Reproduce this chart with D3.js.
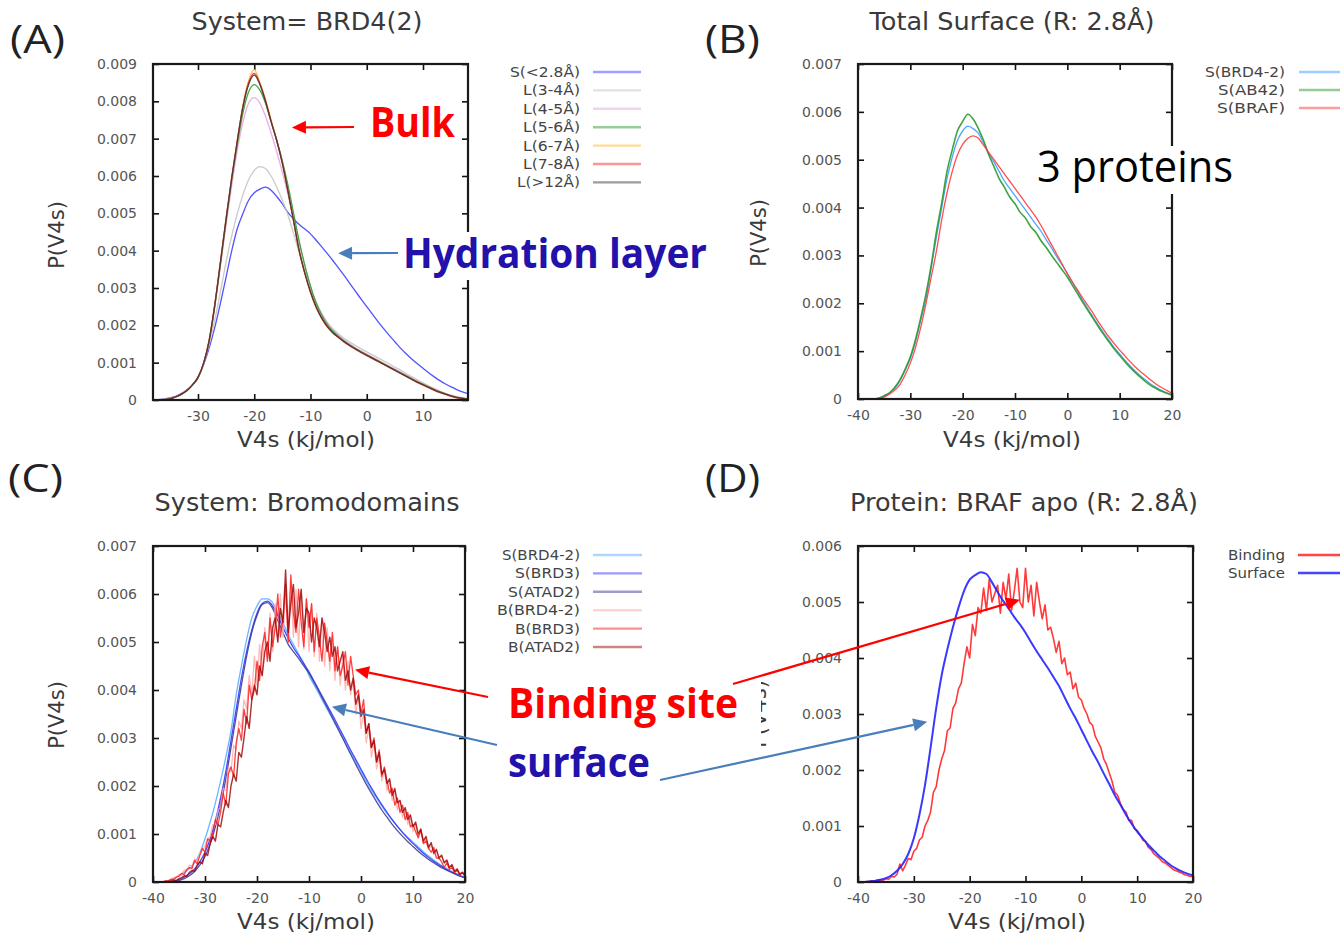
<!DOCTYPE html>
<html>
<head>
<meta charset="utf-8">
<script src="https://cdn.jsdelivr.net/npm/d3@7"></script>
<style>
  body { margin: 0; background: #fff; }
  svg { display: block; }
</style>
</head>
<body>
<svg id="fig" width="1340" height="937"></svg>
<script>
// ---- data (P values in units of 1e-3) ----
// panel A : x = -38 .. 18, step 1
const xA = d3.range(-38, 19);
const aS28 = [0, 0.01, 0.03, 0.06, 0.1, 0.17, 0.27, 0.4, 0.6, 0.95,
  1.4, 1.95, 2.6, 3.3, 4.0, 4.6, 5.0, 5.35, 5.55, 5.65,
  5.7, 5.62, 5.45, 5.25, 5.02, 4.85, 4.7, 4.58, 4.45, 4.28,
  4.1, 3.92, 3.73, 3.53, 3.33, 3.12, 2.91, 2.7, 2.5, 2.3,
  2.1, 1.91, 1.73, 1.56, 1.39, 1.24, 1.1, 0.97, 0.85, 0.73,
  0.62, 0.52, 0.43, 0.35, 0.28, 0.22, 0.17];
const aL34 = [0, 0.01, 0.02, 0.04, 0.08, 0.15, 0.25, 0.4, 0.6, 0.98,
  1.5, 2.15, 2.9, 3.7, 4.4, 5.0, 5.5, 5.9, 6.15, 6.25,
  6.2, 6.0, 5.7, 5.35, 4.95, 4.45, 3.95, 3.45, 3.0, 2.62,
  2.32, 2.08, 1.9, 1.77, 1.65, 1.55, 1.46, 1.37, 1.29, 1.21,
  1.13, 1.05, 0.97, 0.88, 0.8, 0.71, 0.62, 0.54, 0.46, 0.38,
  0.31, 0.24, 0.18, 0.13, 0.09, 0.06, 0.04];
const aL45 = [0, 0, 0.01, 0.03, 0.08, 0.15, 0.25, 0.4, 0.6, 0.98,
  1.58, 2.5, 3.6, 4.7, 5.75, 6.7, 7.45, 7.95, 8.1, 7.95,
  7.6, 7.15, 6.65, 6.1, 5.5, 4.85, 4.2, 3.6, 3.05, 2.62,
  2.3, 2.05, 1.87, 1.73, 1.6, 1.5, 1.4, 1.31, 1.23, 1.15,
  1.07, 0.99, 0.91, 0.83, 0.75, 0.67, 0.59, 0.51, 0.43, 0.36,
  0.29, 0.23, 0.17, 0.12, 0.08, 0.05, 0.02];
const aL56 = [0, 0, 0.01, 0.03, 0.08, 0.15, 0.25, 0.4, 0.6, 0.98,
  1.6, 2.55, 3.65, 4.8, 5.9, 6.85, 7.7, 8.25, 8.45, 8.3,
  7.95, 7.45, 6.95, 6.4, 5.75, 5.0, 4.25, 3.6, 3.05, 2.6,
  2.27, 2.02, 1.84, 1.7, 1.58, 1.47, 1.38, 1.29, 1.21, 1.13,
  1.05, 0.97, 0.89, 0.81, 0.73, 0.65, 0.57, 0.49, 0.42, 0.35,
  0.28, 0.22, 0.16, 0.11, 0.07, 0.04, 0.02];
const aL67 = [0, 0, 0.01, 0.03, 0.08, 0.15, 0.25, 0.4, 0.6, 0.98,
  1.6, 2.55, 3.7, 4.85, 5.95, 6.95, 7.9, 8.55, 8.85, 8.5,
  8.05, 7.5, 6.95, 6.35, 5.6, 4.8, 4.0, 3.4, 2.9, 2.5,
  2.2, 1.97, 1.8, 1.68, 1.56, 1.46, 1.37, 1.28, 1.2, 1.12,
  1.04, 0.96, 0.88, 0.8, 0.72, 0.64, 0.56, 0.48, 0.41, 0.34,
  0.27, 0.21, 0.16, 0.11, 0.07, 0.04, 0.02];
const aL78 = [0, 0, 0.01, 0.03, 0.08, 0.15, 0.26, 0.41, 0.62, 1.0,
  1.62, 2.58, 3.72, 4.87, 5.97, 6.97, 7.88, 8.5, 8.75, 8.48,
  8.02, 7.47, 6.95, 6.33, 5.58, 4.78, 3.98, 3.38, 2.88, 2.48,
  2.18, 1.95, 1.79, 1.67, 1.55, 1.45, 1.36, 1.27, 1.19, 1.11,
  1.03, 0.95, 0.87, 0.79, 0.71, 0.63, 0.55, 0.47, 0.4, 0.33,
  0.26, 0.2, 0.15, 0.1, 0.06, 0.04, 0.02];
const aL12 = [0, 0, 0.01, 0.03, 0.08, 0.15, 0.25, 0.4, 0.6, 0.98,
  1.6, 2.55, 3.7, 4.85, 5.95, 6.95, 7.85, 8.45, 8.7, 8.45,
  8.0, 7.45, 6.95, 6.35, 5.6, 4.8, 4.0, 3.4, 2.9, 2.5,
  2.2, 1.97, 1.8, 1.68, 1.56, 1.46, 1.37, 1.28, 1.2, 1.12,
  1.04, 0.96, 0.88, 0.8, 0.72, 0.64, 0.56, 0.48, 0.41, 0.34,
  0.27, 0.21, 0.16, 0.11, 0.07, 0.04, 0.02];

// panels B, C, D : x = -40 .. 20, step 1
const x1 = d3.range(-40, 21);
const bBRD42 = [0, 0, 0, 0, 0.02, 0.06, 0.12, 0.22, 0.38, 0.6,
  0.85, 1.2, 1.65, 2.1, 2.75, 3.4, 4.0, 4.6, 5.05, 5.4,
  5.6, 5.7, 5.65, 5.55, 5.35, 5.12, 4.95, 4.75, 4.55, 4.4,
  4.25, 4.1, 3.95, 3.8, 3.65, 3.5, 3.32, 3.15, 2.97, 2.8,
  2.62, 2.43, 2.24, 2.05, 1.87, 1.7, 1.53, 1.37, 1.22, 1.07,
  0.94, 0.81, 0.69, 0.58, 0.48, 0.39, 0.31, 0.24, 0.18, 0.13,
  0.09];
const bAB42 = [0, 0, 0, 0, 0.02, 0.07, 0.13, 0.24, 0.4, 0.62,
  0.88, 1.25, 1.7, 2.2, 2.8, 3.5, 4.1, 4.75, 5.2, 5.6,
  5.8, 5.95, 5.85, 5.65, 5.4, 5.1, 4.85, 4.6, 4.42, 4.22,
  4.08, 3.9, 3.78, 3.6, 3.48, 3.3, 3.16, 3.0, 2.85, 2.7,
  2.55, 2.37, 2.19, 2.01, 1.84, 1.67, 1.5, 1.34, 1.19, 1.04,
  0.91, 0.78, 0.66, 0.55, 0.45, 0.36, 0.28, 0.22, 0.16, 0.12,
  0.08];
const bBRAF = [0, 0, 0, 0, 0.01, 0.04, 0.1, 0.18, 0.3, 0.5,
  0.75, 1.08, 1.5, 2.0, 2.55, 3.1, 3.75, 4.3, 4.75, 5.1,
  5.32, 5.45, 5.5, 5.45, 5.3, 5.15, 5.0, 4.85, 4.7, 4.55,
  4.4, 4.25, 4.1, 3.95, 3.8, 3.62, 3.42, 3.22, 3.02, 2.82,
  2.62, 2.44, 2.27, 2.1, 1.94, 1.78, 1.6, 1.44, 1.29, 1.15,
  1.02, 0.9, 0.78, 0.67, 0.57, 0.48, 0.39, 0.31, 0.24, 0.18,
  0.12];

const cS_BRD42 = [0, 0, 0, 0.03, 0.08, 0.13, 0.2, 0.28, 0.4, 0.6,
  0.9, 1.25, 1.65, 2.1, 2.6, 3.15, 3.9, 4.5, 5.05, 5.5,
  5.75, 5.9, 5.9, 5.82, 5.6, 5.4, 5.15, 4.95, 4.75, 4.55,
  4.3, 4.1, 3.9, 3.7, 3.5, 3.3, 3.1, 2.9, 2.7, 2.5,
  2.3, 2.1, 1.92, 1.75, 1.58, 1.43, 1.29, 1.16, 1.04, 0.93,
  0.83, 0.73, 0.63, 0.54, 0.46, 0.38, 0.31, 0.25, 0.19, 0.14,
  0.1];
const cS_BRD3 = [0, 0, 0, 0.01, 0.02, 0.05, 0.1, 0.17, 0.27, 0.42,
  0.62, 0.9, 1.28, 1.75, 2.3, 2.95, 3.6, 4.25, 4.8, 5.25,
  5.6, 5.8, 5.85, 5.75, 5.55, 5.3, 5.08, 4.88, 4.72, 4.55,
  4.38, 4.18, 3.98, 3.78, 3.58, 3.38, 3.17, 2.96, 2.75, 2.55,
  2.35, 2.15, 1.96, 1.78, 1.61, 1.45, 1.3, 1.16, 1.03, 0.91,
  0.8, 0.7, 0.6, 0.51, 0.43, 0.36, 0.29, 0.23, 0.18, 0.13,
  0.09];
const cS_ATAD2 = [0, 0, 0, 0, 0.01, 0.03, 0.07, 0.13, 0.22, 0.35,
  0.53, 0.8, 1.15, 1.6, 2.15, 2.8, 3.45, 4.1, 4.7, 5.2,
  5.55, 5.78, 5.82, 5.7, 5.45, 5.2, 4.95, 4.8, 4.66, 4.5,
  4.35, 4.15, 3.95, 3.74, 3.53, 3.32, 3.1, 2.88, 2.66, 2.45,
  2.24, 2.04, 1.85, 1.67, 1.5, 1.35, 1.2, 1.07, 0.95, 0.84,
  0.74, 0.64, 0.55, 0.47, 0.4, 0.33, 0.27, 0.22, 0.17, 0.12,
  0.09];

const dSurface = [0, 0, 0.01, 0.02, 0.04, 0.07, 0.12, 0.2, 0.32, 0.5,
  0.78, 1.2, 1.73, 2.4, 3.1, 3.7, 4.15, 4.55, 4.9, 5.2,
  5.4, 5.48, 5.53, 5.5, 5.35, 5.18, 5.02, 4.88, 4.73, 4.6,
  4.45, 4.28, 4.12, 3.97, 3.82, 3.66, 3.5, 3.3, 3.1, 2.92,
  2.72, 2.52, 2.32, 2.14, 1.94, 1.75, 1.55, 1.38, 1.2, 1.04,
  0.9, 0.78, 0.66, 0.56, 0.46, 0.38, 0.3, 0.24, 0.19, 0.15,
  0.12];

// noisy binding-site histograms : x = -40 .. 20, step 0.5
const xHalf = d3.range(-40, 20.25, 0.5);
const cB_BRD42 = [0, 0, 0, 0, 0, 0.02, 0.04, 0.03, 0.09, 0.1,
  0.16, 0.14, 0.25, 0.24, 0.35, 0.33, 0.48, 0.44, 0.6, 0.66,
  0.75, 0.9, 0.95, 1.2, 1.2, 1.5, 1.55, 1.95, 1.9, 2.4,
  2.3, 2.85, 2.75, 3.35, 3.2, 3.8, 3.6, 4.3, 3.9, 4.7,
  4.1, 4.95, 4.3, 5.3, 4.6, 5.6, 4.8, 5.8, 5.0, 6.0,
  5.1, 6.1, 5.0, 6.2, 5.1, 6.1, 4.9, 6.0, 4.85, 5.9,
  4.8, 5.8, 4.7, 5.6, 4.6, 5.5, 4.5, 5.3, 4.4, 5.1,
  4.2, 4.9, 4.1, 4.7, 4.0, 4.6, 3.9, 4.2, 3.5, 3.9,
  3.2, 3.5, 2.9, 3.2, 2.6, 2.9, 2.35, 2.6, 2.1, 2.35,
  1.9, 2.1, 1.7, 1.9, 1.5, 1.7, 1.35, 1.5, 1.2, 1.35,
  1.05, 1.2, 0.92, 1.05, 0.8, 0.9, 0.68, 0.78, 0.57, 0.66,
  0.47, 0.55, 0.39, 0.45, 0.31, 0.36, 0.24, 0.28, 0.18, 0.21,
  0.13];
const cB_BRD3 = [0, 0, 0, 0, 0.01, 0.03, 0.02, 0.06, 0.05, 0.1,
  0.12, 0.18, 0.15, 0.26, 0.3, 0.28, 0.45, 0.38, 0.55, 0.7,
  0.62, 0.9, 0.85, 1.0, 1.3, 1.2, 1.45, 1.85, 1.6, 2.25,
  2.4, 2.2, 2.9, 3.2, 2.95, 3.6, 3.3, 4.1, 3.8, 4.0,
  4.6, 4.2, 4.9, 5.2, 4.6, 5.5, 4.9, 5.3, 6.0, 5.1,
  5.5, 6.2, 5.0, 6.4, 5.6, 5.2, 6.1, 5.4, 4.9, 5.9,
  5.3, 5.8, 4.8, 5.5, 5.1, 4.6, 5.4, 5.0, 4.6, 5.2,
  4.4, 4.9, 4.3, 4.5, 4.8, 4.1, 4.7, 4.3, 3.9, 4.0,
  3.5, 3.8, 3.1, 3.3, 2.8, 3.0, 2.5, 2.75, 2.2, 2.4,
  2.1, 1.85, 1.95, 1.6, 1.75, 1.45, 1.6, 1.3, 1.45, 1.15,
  1.2, 1.05, 0.92, 1.1, 0.8, 0.85, 0.7, 0.62, 0.72, 0.5,
  0.5, 0.42, 0.3, 0.4, 0.26, 0.3, 0.2, 0.24, 0.14, 0.2,
  0.12];
const cB_ATAD2 = [0, 0, 0, 0, 0, 0, 0.01, 0.02, 0.04, 0.03,
  0.07, 0.09, 0.13, 0.12, 0.2, 0.24, 0.22, 0.35, 0.42, 0.38,
  0.6, 0.55, 0.8, 0.95, 0.85, 1.2, 1.15, 1.45, 1.7, 1.55,
  2.0, 2.25, 2.1, 2.7, 2.6, 3.0, 3.45, 3.2, 3.8, 4.1,
  3.9, 4.5, 4.3, 4.8, 5.0, 4.6, 5.3, 5.5, 5.0, 5.7,
  5.4, 6.5, 5.2, 5.8, 6.2, 5.3, 5.6, 6.1, 5.2, 5.7,
  5.6, 5.0, 5.5, 5.3, 4.9, 5.5, 5.2, 4.8, 5.1, 4.7,
  4.9, 4.4, 4.6, 4.8, 4.2, 4.4, 4.0, 4.25, 3.7, 3.9,
  3.45, 3.6, 3.1, 3.3, 2.8, 2.95, 2.5, 2.7, 2.25, 2.35,
  2.05, 2.15, 1.8, 1.95, 1.65, 1.7, 1.45, 1.55, 1.3, 1.4,
  1.15, 1.25, 1.0, 1.1, 0.85, 0.95, 0.72, 0.82, 0.6, 0.68,
  0.5, 0.56, 0.4, 0.46, 0.3, 0.36, 0.22, 0.27, 0.16, 0.2,
  0.13];
const dBinding = [0, 0, 0, 0.01, 0.01, 0.02, 0.02, 0.03, 0.04, 0.03,
  0.06, 0.05, 0.1, 0.09, 0.14, 0.32, 0.2, 0.3, 0.42, 0.4,
  0.55, 0.6, 0.75, 0.8, 1.0, 1.1, 1.25, 1.6, 1.7, 2.0,
  2.2, 2.35, 2.7, 2.75, 3.1, 3.2, 3.45, 3.55, 3.9, 4.2,
  4.0, 4.6, 4.4, 4.9, 4.8, 5.25, 4.85, 5.4, 5.0, 5.15,
  5.3, 4.8, 5.35, 5.05, 5.5, 4.85, 5.2, 5.6, 5.0, 4.9,
  5.6, 5.0, 5.3, 4.75, 5.35, 5.0, 4.7, 4.95, 4.5, 4.55,
  4.35, 4.1, 4.3, 3.9, 4.0, 3.7, 3.75, 3.45, 3.55, 3.3,
  3.25, 3.1, 3.0, 2.85, 2.8, 2.6, 2.5, 2.4, 2.2, 2.1,
  1.95, 1.8, 1.6, 1.55, 1.4, 1.3, 1.25, 1.1, 1.1, 0.95,
  0.92, 0.85, 0.75, 0.72, 0.62, 0.58, 0.5, 0.46, 0.42, 0.36,
  0.34, 0.3, 0.26, 0.22, 0.2, 0.18, 0.16, 0.13, 0.12, 0.1,
  0.1];

// tick values
const xTicksA = [-30, -20, -10, 0, 10];
const xTicks = [-40, -30, -20, -10, 0, 10, 20];
const yTicks9 = [0, 0.001, 0.002, 0.003, 0.004, 0.005, 0.006, 0.007, 0.008, 0.009];
const yTicks7 = [0, 0.001, 0.002, 0.003, 0.004, 0.005, 0.006, 0.007];
const yTicks6 = [0, 0.001, 0.002, 0.003, 0.004, 0.005, 0.006];

// ---- drawing ----
const svg = d3.select("#fig");
const GP = "'DejaVu Sans', Verdana, sans-serif";
const SL = "'Open Sans', 'Noto Sans', sans-serif";
const fmtY = d => d === 0 ? "0" : d3.format(".3f")(d);
const fmtX = d => String(d);   // plain hyphen for negatives, like gnuplot

function drawPanel(p) {
  const x = d3.scaleLinear().domain(p.xDomain).range([p.left, p.right]);
  const y = d3.scaleLinear().domain([0, p.yMax]).range([p.bottom, p.top]);
  const g = svg.append("g");

  const clipId = "clip-" + p.id;
  svg.append("clipPath").attr("id", clipId).append("rect")
    .attr("x", p.left).attr("y", p.top)
    .attr("width", p.right - p.left).attr("height", p.bottom - p.top);

  const axes = [
    [d3.axisBottom(x).tickValues(p.xTicks).tickFormat(fmtX).tickPadding(11), `translate(0,${p.bottom})`],
    [d3.axisTop(x).tickValues(p.xTicks).tickFormat(""), `translate(0,${p.top})`],
    [d3.axisLeft(y).tickValues(p.yTicks).tickFormat(fmtY).tickPadding(16), `translate(${p.left},0)`],
    [d3.axisRight(y).tickValues(p.yTicks).tickFormat(""), `translate(${p.right},0)`]
  ];
  axes.forEach(([ax, tr]) => {
    const a = g.append("g").attr("transform", tr)
      .call(ax.tickSizeInner(-6).tickSizeOuter(0));
    a.select(".domain").remove();
    a.selectAll(".tick line").attr("stroke", "#111").attr("stroke-width", 1.6);
    a.selectAll(".tick text").attr("fill", "#555").style("font-family", GP).style("font-size", "14px");
  });

  // curves
  const line = d3.line().x(d => x(d[0])).y(d => y(d[1]));
  p.series.forEach(s => {
    const pts = s.xs.map((xv, i) => [xv, s.values[i] / 1000]).filter(d => !isNaN(d[1]));
    g.append("path")
      .attr("clip-path", `url(#${clipId})`)
      .attr("d", line.curve(s.noisy ? d3.curveLinear : d3.curveMonotoneX)(pts))
      .attr("fill", "none")
      .attr("stroke", s.color)
      .attr("stroke-width", s.width || 1.3)
      .attr("stroke-opacity", s.opacity || 0.9)
      .attr("stroke-linejoin", "round");
  });

  // frame
  g.append("rect")
    .attr("x", p.left).attr("y", p.top)
    .attr("width", p.right - p.left).attr("height", p.bottom - p.top)
    .attr("fill", "none").attr("stroke", "#1a1a1a").attr("stroke-width", 2.2);

  // legend
  p.series.forEach((s, i) => {
    const ly = p.leg.y + i * p.leg.step;
    g.append("text")
      .attr("x", p.leg.textX).attr("y", ly).attr("dy", "0.35em")
      .attr("text-anchor", "end")
      .attr("textLength", s.lw).attr("lengthAdjust", "spacingAndGlyphs")
      .attr("fill", "#444").style("font-family", GP).style("font-size", "14px")
      .text(s.name);
    g.append("line")
      .attr("x1", p.leg.x1).attr("x2", p.leg.x2).attr("y1", ly).attr("y2", ly)
      .attr("stroke", s.color).attr("stroke-width", 2.4)
      .attr("stroke-opacity", p.leg.opacity);
  });

  // title, axis labels, panel letter
  g.append("text").attr("x", p.title.x).attr("y", p.title.y).attr("text-anchor", "middle")
    .attr("textLength", p.title.w).attr("lengthAdjust", "spacingAndGlyphs")
    .attr("fill", "#3a3a3a").style("font-family", GP).style("font-size", "25px").text(p.title.text);
  g.append("text").attr("x", p.xlab.x).attr("y", p.xlab.y).attr("text-anchor", "middle")
    .attr("textLength", 138).attr("lengthAdjust", "spacingAndGlyphs")
    .attr("fill", "#3a3a3a").style("font-family", GP).style("font-size", "21px").text("V4s (kj/mol)");
  g.append("text").attr("transform", `translate(${p.ylab.x},${p.ylab.y}) rotate(-90)`)
    .attr("text-anchor", "middle")
    .attr("fill", "#3a3a3a").style("font-family", GP).style("font-size", "21px").text("P(V4s)");
  g.append("text").attr("x", p.letter.x).attr("y", p.letter.y)
    .attr("textLength", 55).attr("lengthAdjust", "spacingAndGlyphs")
    .attr("fill", "#222").style("font-family", SL).style("font-size", "38px").text(p.letter.text);

  return { x, y };
}

const A = drawPanel({
  id: "A", left: 153, right: 468, top: 64, bottom: 400,
  xDomain: [-38, 18], yMax: 0.009, xTicks: xTicksA, yTicks: yTicks9,
  series: [
    { name: "S(<2.8Å)", xs: xA, values: aS28, color: "#3f3fff", lw: 70 },
    { name: "L(3-4Å)", xs: xA, values: aL34, color: "#c4c4c4", lw: 57 },
    { name: "L(4-5Å)", xs: xA, values: aL45, color: "#e4a6e4", lw: 57 },
    { name: "L(5-6Å)", xs: xA, values: aL56, color: "#2f9e2f", lw: 57 },
    { name: "L(6-7Å)", xs: xA, values: aL67, color: "#ffb52e", lw: 57 },
    { name: "L(7-8Å)", xs: xA, values: aL78, color: "#ff2a2a", lw: 57 },
    { name: "L(>12Å)", xs: xA, values: aL12, color: "#3a3a3a", lw: 63 }
  ],
  leg: { y: 72, step: 18.4, textX: 580, x1: 593, x2: 641, opacity: 0.5 },
  title: { text: "System= BRD4(2)", x: 307, y: 30, w: 231 },
  xlab: { x: 306, y: 447 }, ylab: { x: 64, y: 235 },
  letter: { text: "(A)", x: 10, y: 53 }
});

const B = drawPanel({
  id: "B", left: 858, right: 1172, top: 64, bottom: 399,
  xDomain: [-40, 20], yMax: 0.007, xTicks: xTicks, yTicks: yTicks7,
  series: [
    { name: "S(BRD4-2)", xs: x1, values: bBRD42, color: "#3d9bff", lw: 80 },
    { name: "S(AB42)", xs: x1, values: bAB42, color: "#2a9a2a", lw: 67, width: 1.6 },
    { name: "S(BRAF)", xs: x1, values: bBRAF, color: "#ff3b3b", lw: 68 }
  ],
  leg: { y: 72, step: 18, textX: 1285, x1: 1299, x2: 1345, opacity: 0.5 },
  title: { text: "Total Surface (R: 2.8Å)", x: 1012, y: 30, w: 285 },
  xlab: { x: 1012, y: 447 }, ylab: { x: 766, y: 233 },
  letter: { text: "(B)", x: 705, y: 53 }
});

const C = drawPanel({
  id: "C", left: 153, right: 465, top: 546, bottom: 882,
  xDomain: [-40, 20], yMax: 0.007, xTicks: xTicks, yTicks: yTicks7,
  series: [
    { name: "S(BRD4-2)", xs: x1, values: cS_BRD42, color: "#5aaeff", lw: 78 },
    { name: "S(BRD3)", xs: x1, values: cS_BRD3, color: "#3535ff", lw: 65 },
    { name: "S(ATAD2)", xs: x1, values: cS_ATAD2, color: "#3c3c9a", lw: 72 },
    { name: "B(BRD4-2)", xs: xHalf, values: cB_BRD42, color: "#ffa8a8", lw: 83, noisy: true, opacity: 0.8 },
    { name: "B(BRD3)", xs: xHalf, values: cB_BRD3, color: "#ff2020", lw: 65, noisy: true, opacity: 0.85 },
    { name: "B(ATAD2)", xs: xHalf, values: cB_ATAD2, color: "#a00a0a", lw: 72, noisy: true, opacity: 0.85, width: 1.4 }
  ],
  leg: { y: 555, step: 18.4, textX: 580, x1: 593, x2: 642, opacity: 0.5 },
  title: { text: "System: Bromodomains", x: 307, y: 511, w: 305 },
  xlab: { x: 306, y: 929 }, ylab: { x: 64, y: 715 },
  letter: { text: "(C)", x: 8, y: 492 }
});

const D = drawPanel({
  id: "D", left: 858, right: 1193, top: 546, bottom: 882,
  xDomain: [-40, 20], yMax: 0.006, xTicks: xTicks, yTicks: yTicks6,
  series: [
    { name: "Binding", xs: xHalf, values: dBinding, color: "#ff2525", lw: 57, noisy: true, width: 1.6 },
    { name: "Surface", xs: x1, values: dSurface, color: "#2323ff", lw: 57, width: 2 }
  ],
  leg: { y: 555, step: 18, textX: 1285, x1: 1298, x2: 1345, opacity: 0.85 },
  title: { text: "Protein: BRAF apo (R: 2.8Å)", x: 1024, y: 511, w: 348 },
  xlab: { x: 1017, y: 929 }, ylab: { x: 766, y: 714 },
  letter: { text: "(D)", x: 705, y: 492 }
});

// ---- annotations ----
const notes = [
  { text: "Bulk", x: 370, y: 137, size: 42, w: 85, color: "#ff0000", bold: true },
  { text: "Hydration layer", x: 403, y: 268, size: 42, w: 304, color: "#2211aa", bold: true, box: [400, 232, 310, 48] },
  { text: "3 proteins", x: 1037, y: 182, size: 44, w: 196, color: "#000", bold: false, box: [1034, 146, 202, 48] },
  { text: "Binding site", x: 508, y: 718, size: 42, w: 230, color: "#ff0000", bold: true, box: [503, 678, 258, 76] },
  { text: "surface", x: 508, y: 777, size: 42, w: 142, color: "#2211aa", bold: true }
];
notes.forEach(n => {
  if (n.box) {
    svg.append("rect").attr("x", n.box[0]).attr("y", n.box[1])
      .attr("width", n.box[2]).attr("height", n.box[3]).attr("fill", "#fff");
  }
  svg.append("text").attr("x", n.x).attr("y", n.y)
    .attr("textLength", n.w).attr("lengthAdjust", "spacingAndGlyphs")
    .attr("fill", n.color).style("font-family", SL)
    .style("font-weight", n.bold ? 700 : 400).style("font-size", n.size + "px")
    .text(n.text);
});

function arrow(x1, y1, x2, y2, color) {
  const ang = Math.atan2(y2 - y1, x2 - x1);
  const L = 14, W = 6.5;
  const bx = x2 - L * Math.cos(ang), by = y2 - L * Math.sin(ang);
  svg.append("line").attr("x1", x1).attr("y1", y1).attr("x2", bx).attr("y2", by)
    .attr("stroke", color).attr("stroke-width", 2.2);
  const px = -Math.sin(ang) * W, py = Math.cos(ang) * W;
  svg.append("path")
    .attr("d", `M${x2},${y2}L${bx + px},${by + py}L${bx - px},${by - py}Z`)
    .attr("fill", color);
}
const RED = "#ff0000", STEEL = "#4a7ebb";
arrow(354, 127, A.x(-13.3), A.y(0.0073), RED);
arrow(398, 253, A.x(-5.1), A.y(0.00393), STEEL);
arrow(488, 697, C.x(-1.15), C.y(0.00442), RED);
arrow(497, 745, C.x(-5.6), C.y(0.00365), STEEL);
arrow(733, 684, D.x(-11.0), D.y(0.00504), RED);
arrow(660, 780, D.x(-27.6), D.y(0.00286), STEEL);
</script>
</body>
</html>
